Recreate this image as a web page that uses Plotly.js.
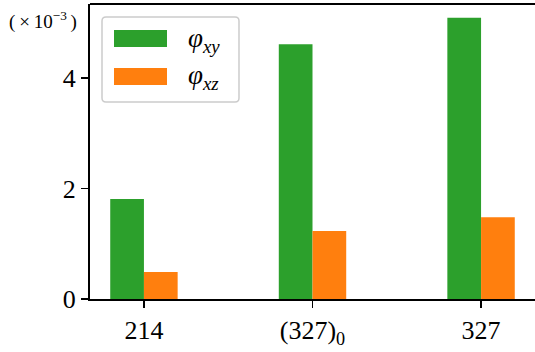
<!DOCTYPE html>
<html>
<head>
<meta charset="utf-8">
<script src="https://cdn.plot.ly/plotly-3.0.1.min.js"></script>
<style>html,body{margin:0;padding:0;background:#fff;}#chart{width:535px;height:352px;}</style>
</head>
<body>
<div id="chart"></div>
<script>
const categories = ['214', '(327)<sub>0</sub>', '327'];
const phiXY = [1.81, 4.61, 5.09];
const phiXZ = [0.49, 1.23, 1.48];
const seriesNames = ['<i>φ</i><sub><i>xy</i></sub>', '<i>φ</i><sub><i>xz</i></sub>'];
const seriesColors = ['#2ca02c', '#ff7f0e'];
const yTicks = [0, 2, 4];

const FONT = '"Liberation Serif", "DejaVu Serif", serif';
const W = 535, H = 352, ML = 90, MR = 0, MT = 4, MB = 53;
const PW = W - ML - MR, PH = H - MT - MB;
const px = x => (x - ML) / PW;
const py = y => (H - MB - y) / PH;

const traces = [phiXY, phiXZ].map((vals, i) => ({
  type: 'bar', x: categories, y: vals, name: seriesNames[i],
  marker: {color: seriesColors[i], line: {width: 0}}, showlegend: false
}));

function roundRect(x0, y0, x1, y1, r) {
  const X = v => px(v).toFixed(5), Y = v => py(v).toFixed(5);
  return `M ${X(x0 + r)} ${Y(y0)} L ${X(x1 - r)} ${Y(y0)} Q ${X(x1)} ${Y(y0)} ${X(x1)} ${Y(y0 + r)} ` +
    `L ${X(x1)} ${Y(y1 - r)} Q ${X(x1)} ${Y(y1)} ${X(x1 - r)} ${Y(y1)} L ${X(x0 + r)} ${Y(y1)} ` +
    `Q ${X(x0)} ${Y(y1)} ${X(x0)} ${Y(y1 - r)} L ${X(x0)} ${Y(y0 + r)} Q ${X(x0)} ${Y(y0)} ${X(x0 + r)} ${Y(y0)} Z`;
}

const shapes = [
  {type: 'line', xref: 'paper', yref: 'paper', x0: 0, x1: 1, y0: 1, y1: 1, line: {color: '#000', width: 2}},
  {type: 'path', xref: 'paper', yref: 'paper', path: roundRect(102, 17, 239, 102, 4),
   fillcolor: 'rgba(255,255,255,0.8)', line: {color: '#cccccc', width: 1.5}}
];
const annotations = [
  {xref: 'paper', yref: 'paper', x: px(7), y: py(21), xanchor: 'left', yanchor: 'middle',
   text: '(&#8201;×&#8201;10<sup>−3</sup>&#8201;)', showarrow: false, font: {size: 19, color: '#000', family: FONT}}
];
const patchRows = [38.5, 76.5];
patchRows.forEach((cy, i) => {
  shapes.push({type: 'rect', xref: 'paper', yref: 'paper', x0: px(114), x1: px(167), y0: py(cy - 8.5), y1: py(cy + 8.5),
    fillcolor: seriesColors[i], line: {width: 0}});
  annotations.push({xref: 'paper', yref: 'paper', x: px(186), y: py(cy + 1), xanchor: 'left', yanchor: 'middle',
    text: seriesNames[i], showarrow: false, font: {size: 27, color: '#000', family: FONT}});
});

const layout = {
  width: W, height: H,
  margin: {l: ML, r: MR, t: MT, b: MB},
  paper_bgcolor: '#fff', plot_bgcolor: '#fff',
  font: {family: FONT, color: '#000', size: 26},
  barmode: 'group', bargap: 0.6, bargroupgap: 0,
  xaxis: {type: 'category', range: [-0.32, 2.32], showgrid: false, zeroline: false,
    showline: true, linecolor: '#000', linewidth: 2, ticks: 'outside', ticklen: 7, tickwidth: 1.8, tickcolor: '#000',
    tickfont: {size: 26, family: FONT, color: '#000'}},
  yaxis: {range: [0, 5.34], tickvals: yTicks, ticktext: yTicks.map(String), showgrid: false, zeroline: false,
    showline: true, linecolor: '#000', linewidth: 2, ticks: 'outside', ticklen: 7, tickwidth: 1.8, tickcolor: '#000',
    tickfont: {size: 26, family: FONT, color: '#000'}},
  shapes: shapes, annotations: annotations, showlegend: false
};

Plotly.newPlot('chart', traces, layout, {displayModeBar: false, staticPlot: true});
</script>
</body>
</html>
